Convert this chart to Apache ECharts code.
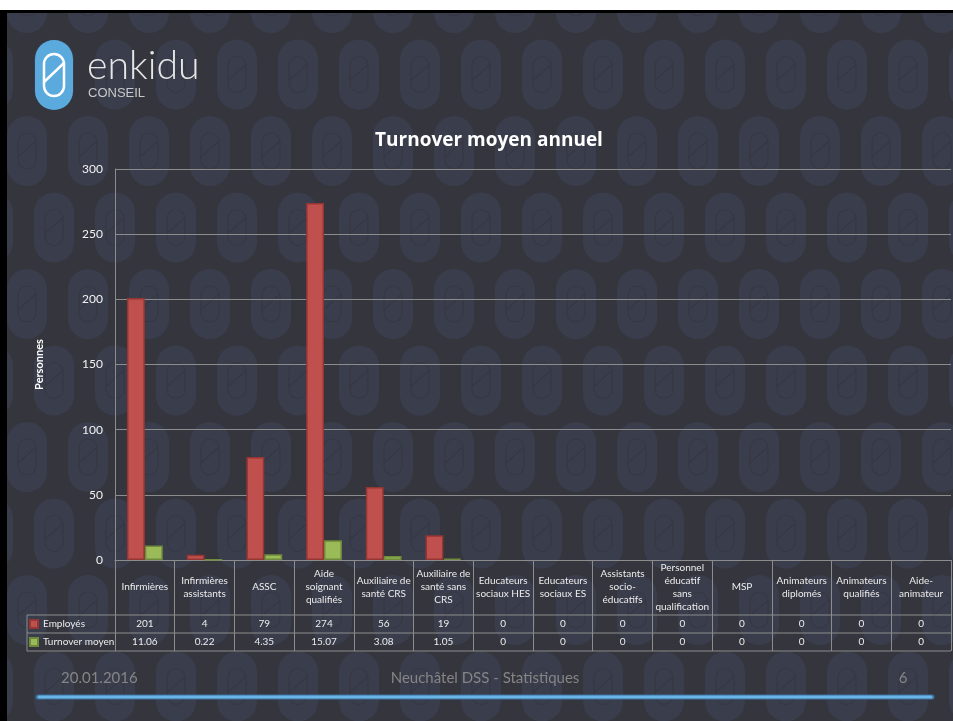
<!DOCTYPE html>
<html>
<head>
<meta charset="utf-8">
<script src="https://cdn.jsdelivr.net/npm/echarts@6/dist/echarts.min.js"></script>
<style>
  html, body { margin: 0; padding: 0; background: #35353e; }
  #turnover { width: 953px; height: 721px; }
</style>
</head>
<body>
<div id="turnover"></div>
<script>
// données
const categories = [
  'Infirmières', 'Infirmières\nassistants', 'ASSC', 'Aide\nsoignant\nqualifiés',
  'Auxiliaire de\nsanté CRS', 'Auxiliaire de\nsanté sans\nCRS', 'Educateurs\nsociaux HES',
  'Educateurs\nsociaux ES', 'Assistants\nsocio-\néducatifs', 'Personnel\néducatif\nsans\nqualification',
  'MSP', 'Animateurs\ndiplomés', 'Animateurs\nqualifiés', 'Aide-\nanimateur'
]
const employes = [201, 4, 79, 274, 56, 19, 0, 0, 0, 0, 0, 0, 0, 0]
const turnover = [11.06, 0.22, 4.35, 15.07, 3.08, 1.05, 0, 0, 0, 0, 0, 0, 0, 0]
const seriesNames = ['Employés', 'Turnover moyen']
const yMax = 300
const yStep = 50

const W = 953
const H = 721
const plotLeft = 115
const plotRight = 951
const plotTop = 169
const plotBottom = 560
const tableLeft = 27
const rowLines = [615, 633, 651]
const lineColor = '#8c8c8c'
const textColor = '#ececec'
const font = 'Lato, "Liberation Sans", sans-serif'

// motif de fond (ovales enkidu)
const pattern = []
for (let r = 0; r < 11; r++) {
  const cy = -2 + r * 76.5
  const x0 = r % 2 === 0 ? 27 : 54
  for (let c = -1; c < 17; c++) {
    const cx = x0 + c * 61
    pattern.push({
      type: 'rect', z: -10, silent: true,
      shape: { x: cx - 20, y: cy - 35, width: 40, height: 70, r: 20 },
      style: { fill: '#3a3e4c' }
    })
    pattern.push({
      type: 'rect', z: -9, silent: true,
      shape: { x: cx - 9, y: cy - 18, width: 18, height: 36, r: 9 },
      style: { fill: null, stroke: '#363844', lineWidth: 1.2 }
    })
    pattern.push({
      type: 'line', z: -9, silent: true,
      shape: { x1: cx - 9, y1: cy + 6, x2: cx + 9, y2: cy - 10 },
      style: { stroke: '#363844', lineWidth: 1.2 }
    })
  }
}

const tableLines = rowLines.map(y => ({
  type: 'line', z: 5, silent: true,
  shape: { x1: tableLeft, y1: y, x2: plotRight, y2: y },
  style: { stroke: lineColor, lineWidth: 1 }
}))
tableLines.push({
  type: 'line', z: 5, silent: true,
  shape: { x1: tableLeft, y1: rowLines[0], x2: tableLeft, y2: rowLines[2] },
  style: { stroke: lineColor, lineWidth: 1 }
})

const decor = [
  // cadre
  { type: 'rect', z: 20, silent: true, shape: { x: 0, y: 0, width: W, height: 10 }, style: { fill: '#ffffff' } },
  { type: 'rect', z: 20, silent: true, shape: { x: 0, y: 10, width: W, height: 3 }, style: { fill: '#000000' } },
  { type: 'rect', z: 20, silent: true, shape: { x: 0, y: 10, width: 7, height: H - 10 }, style: { fill: '#000000' } },
  // logo
  { type: 'rect', z: 6, silent: true, shape: { x: 35, y: 40, width: 38, height: 70, r: 19 }, style: { fill: '#5aaade' } },
  {
    type: 'rect', z: 7, silent: true,
    shape: { x: 44, y: 54, width: 20, height: 42, r: 10 },
    style: { fill: null, stroke: '#ffffff', lineWidth: 2.5 }
  },
  {
    type: 'line', z: 7, silent: true,
    shape: { x1: 44, y1: 82, x2: 64, y2: 63 },
    style: { stroke: '#ffffff', lineWidth: 2.5, lineCap: 'round' }
  },
  {
    type: 'text', z: 6, silent: true, x: 87, y: 86, scaleX: 0.98,
    style: { text: 'enkidu', fontSize: 40, fontWeight: 300, fontFamily: font, fill: '#e6e6e6', verticalAlign: 'bottom' }
  },
  {
    type: 'text', z: 6, silent: true, x: 88, y: 93,
    style: { text: 'CONSEIL', fontSize: 13, fontFamily: '"Liberation Sans", sans-serif', fill: '#c8c8c8', verticalAlign: 'middle' }
  },
  // pied de page
  {
    type: 'text', z: 6, silent: true, x: 61, y: 678,
    style: { text: '20.01.2016', fontSize: 15, fontFamily: font, fill: '#858585', verticalAlign: 'middle' }
  },
  {
    type: 'text', z: 6, silent: true, x: 485, y: 678,
    style: { text: 'Neuchâtel DSS - Statistiques', fontSize: 15, fontFamily: font, fill: '#858585', align: 'center', verticalAlign: 'middle' }
  },
  {
    type: 'text', z: 6, silent: true, x: 903, y: 678,
    style: { text: '6', fontSize: 15, fontFamily: font, fill: '#858585', align: 'center', verticalAlign: 'middle' }
  },
  { type: 'line', z: 6, silent: true, shape: { x1: 38, y1: 697, x2: 932, y2: 697 }, style: { stroke: '#3a73a0', lineWidth: 5, lineCap: 'round' } },
  { type: 'line', z: 7, silent: true, shape: { x1: 39, y1: 697, x2: 931, y2: 697 }, style: { stroke: '#6cb3e6', lineWidth: 3, lineCap: 'round' } }
]

const chart = echarts.init(document.getElementById('turnover'))

const option = {
  backgroundColor: '#35353e',
  animation: false,
  textStyle: { fontFamily: font },
  title: {
    text: 'Turnover moyen annuel',
    left: 484,
    top: 126,
    textAlign: 'center',
    textStyle: { color: '#ffffff', fontSize: 19, fontWeight: 'bold', fontFamily: '"Open Sans", sans-serif' }
  },
  legend: {
    data: seriesNames,
    orient: 'vertical',
    left: 29,
    top: 619,
    padding: 0,
    itemWidth: 8,
    itemHeight: 8,
    itemGap: 8,
    icon: 'rect',
    textStyle: { color: textColor, fontSize: 10, lineHeight: 10 }
  },
  grid: {
    left: plotLeft,
    right: W - plotRight,
    top: plotTop,
    bottom: H - plotBottom,
    containLabel: false
  },
  xAxis: [
    {
      type: 'category',
      data: categories,
      axisLine: { lineStyle: { color: lineColor } },
      axisTick: { show: true, length: rowLines[2] - plotBottom, lineStyle: { color: lineColor } },
      axisLabel: { interval: 0, margin: 27, verticalAlign: 'middle', lineHeight: 13, fontSize: 10, color: textColor }
    },
    {
      type: 'category',
      data: employes.map(String),
      position: 'bottom',
      offset: (rowLines[0] + rowLines[1]) / 2 - plotBottom,
      axisLine: { show: false },
      axisTick: { show: false },
      axisLabel: { interval: 0, margin: 0, verticalAlign: 'middle', fontSize: 10, color: textColor }
    },
    {
      type: 'category',
      data: turnover.map(String),
      position: 'bottom',
      offset: (rowLines[1] + rowLines[2]) / 2 - plotBottom,
      axisLine: { show: false },
      axisTick: { show: false },
      axisLabel: { interval: 0, margin: 0, verticalAlign: 'middle', fontSize: 10, color: textColor }
    }
  ],
  yAxis: {
    type: 'value',
    min: 0,
    max: yMax,
    interval: yStep,
    name: 'Personnes',
    nameLocation: 'middle',
    nameGap: 70,
    nameTextStyle: { color: '#ffffff', fontSize: 11, fontWeight: 'bold' },
    axisLine: { show: true, lineStyle: { color: lineColor } },
    axisTick: { show: false },
    axisLabel: { color: '#f2f2f2', fontSize: 12, margin: 12 },
    splitLine: { lineStyle: { color: lineColor, width: 1 } }
  },
  series: [
    {
      name: seriesNames[0],
      type: 'bar',
      xAxisIndex: 0,
      barGap: '0%',
      barCategoryGap: '40%',
      data: employes.map(v => (v === 0 ? '-' : v)),
      itemStyle: { color: '#c0504d', borderColor: '#943634', borderWidth: 1.5 }
    },
    {
      name: seriesNames[1],
      type: 'bar',
      xAxisIndex: 0,
      data: turnover.map(v => (v === 0 ? '-' : v)),
      itemStyle: { color: '#9bbb59', borderColor: '#6f8a3a', borderWidth: 1.5 }
    }
  ],
  graphic: { elements: pattern.concat(tableLines, decor) }
}

chart.setOption(option)
</script>
</body>
</html>
